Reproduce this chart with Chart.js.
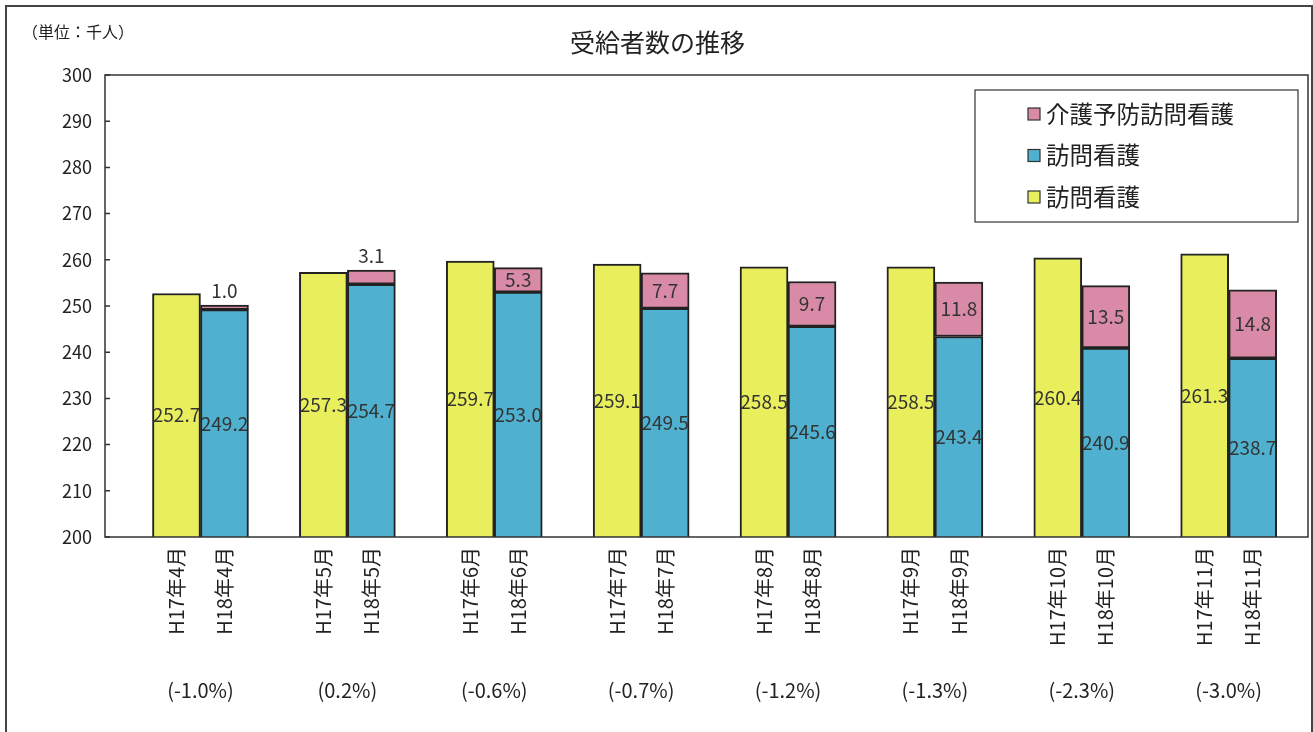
<!DOCTYPE html>
<html lang="ja">
<head>
<meta charset="UTF-8">
<title>受給者数の推移</title>
<script src="https://cdn.jsdelivr.net/npm/chart.js"></script>
<style>
  html, body { margin: 0; padding: 0; background: #fff; overflow: hidden; }
  #frame { position: absolute; left: 5px; top: 5px; width: 1304px; height: 740px; border: 2px solid #444; }
  #chart { display: block; }
</style>
</head>
<body>
<div id="frame"><canvas id="chart" width="1304" height="725"></canvas></div>
<script>
  // data
  const h17Labels = ['H17年4月', 'H17年5月', 'H17年6月', 'H17年7月', 'H17年8月', 'H17年9月', 'H17年10月', 'H17年11月'];
  const h18Labels = ['H18年4月', 'H18年5月', 'H18年6月', 'H18年7月', 'H18年8月', 'H18年9月', 'H18年10月', 'H18年11月'];
  const h17Values = [252.7, 257.3, 259.7, 259.1, 258.5, 258.5, 260.4, 261.3];
  const h18Values = [249.2, 254.7, 253.0, 249.5, 245.6, 243.4, 240.9, 238.7];
  const preventValues = [1.0, 3.1, 5.3, 7.7, 9.7, 11.8, 13.5, 14.8];
  const changeLabels = ['(-1.0%)', '(0.2%)', '(-0.6%)', '(-0.7%)', '(-1.2%)', '(-1.3%)', '(-2.3%)', '(-3.0%)'];
  const seriesNames = ['訪問看護', '訪問看護', '介護予防訪問看護'];
  const chartTitle = '受給者数の推移';
  const unitLabel = '（単位：千人）';

  const JP = '"Noto Sans CJK JP", "Noto Sans", sans-serif';
  const colors = ['#e8ee5c', '#4fb0cf', '#d98aa6'];
  const halfPair = 0.1635;   // offset (in month units) of each bar centre from the month centre

  const xLabels = [];
  const tickPositions = [];
  h17Labels.forEach((lab, i) => {
    xLabels.push(lab, h18Labels[i]);
    tickPositions.push(i - halfPair, i + halfPair);
  });

  const toPoints = arr => arr.map((v, i) => ({ x: i, y: v }));

  const decorations = {
    id: 'decorations',
    afterDatasetsDraw(chart) {
      const { ctx, chartArea: a } = chart;
      ctx.save();
      ctx.font = '19px ' + JP;
      ctx.fillStyle = '#333';
      ctx.textAlign = 'center';
      ctx.textBaseline = 'middle';
      chart.data.datasets.forEach((ds, di) => {
        chart.getDatasetMeta(di).data.forEach((bar, i) => {
          const bottom = Math.min(bar.base, a.bottom);
          const h = bottom - bar.y;
          const y = h < 20 ? bar.y - 14 : (bar.y + bottom) / 2;
          ctx.fillText(ds.data[i].y.toFixed(1), bar.x, y);
        });
      });
      ctx.restore();
    },
    afterDraw(chart) {
      const { ctx, chartArea: a } = chart;
      ctx.save();
      // plot frame + small inward ticks
      ctx.strokeStyle = '#333';
      ctx.lineWidth = 1.5;
      ctx.strokeRect(a.left, a.top, a.width, a.height);
      const ys = chart.scales.y;
      ctx.beginPath();
      ys.ticks.forEach(t => {
        const py = ys.getPixelForValue(t.value);
        ctx.moveTo(a.left, py);
        ctx.lineTo(a.left + 5, py);
      });
      ctx.stroke();

      // unit
      ctx.fillStyle = '#222';
      ctx.font = '16px ' + JP;
      ctx.textAlign = 'left';
      ctx.textBaseline = 'middle';
      ctx.fillText(unitLabel, 15, 25);

      // legend box
      const boxL = a.right - 333, boxT = a.top + 15;
      ctx.fillStyle = '#fff';
      ctx.fillRect(boxL, boxT, 323, 132);
      ctx.lineWidth = 1.2;
      ctx.strokeRect(boxL, boxT, 323, 132);
      ctx.font = '23.5px ' + JP;
      [2, 1, 0].forEach((di, row) => {
        const ds = chart.data.datasets[di];
        const cy = boxT + 24 + row * 41.5;
        ctx.fillStyle = ds.backgroundColor;
        ctx.fillRect(boxL + 53, cy - 6, 12, 12);
        ctx.strokeRect(boxL + 53, cy - 6, 12, 12);
        ctx.fillStyle = '#222';
        ctx.fillText(ds.label, boxL + 71, cy);
      });
      ctx.restore();
    }
  };

  new Chart(document.getElementById('chart'), {
    type: 'bar',
    data: {
      datasets: [
        { label: seriesNames[0], data: toPoints(h17Values), stack: 'h17', backgroundColor: colors[0] },
        { label: seriesNames[1], data: toPoints(h18Values), stack: 'h18', backgroundColor: colors[1] },
        { label: seriesNames[2], data: toPoints(preventValues), stack: 'h18', backgroundColor: colors[2] }
      ]
    },
    options: {
      responsive: false,
      animation: false,
      layout: { padding: { left: 0, right: 3, top: 0, bottom: 0 } },
      datasets: {
        bar: {
          borderColor: '#222',
          borderWidth: 2,
          borderSkipped: false,
          barThickness: 48,
          barPercentage: 1
        }
      },
      plugins: {
        legend: { display: false },
        tooltip: { enabled: false },
        title: {
          display: true,
          text: chartTitle,
          color: '#222',
          font: { family: JP, size: 25, weight: 'normal' },
          padding: { top: 20, bottom: 18 }
        }
      },
      scales: {
        x: {
          type: 'linear',
          stacked: true,
          min: -0.65,
          max: 7.54,
          bounds: 'data',
          offset: false,
          grid: { display: false, drawTicks: false },
          border: { display: false },
          afterBuildTicks: s => { s.ticks = tickPositions.map(v => ({ value: v })); },
          ticks: {
            autoSkip: false,
            minRotation: 90,
            maxRotation: 90,
            padding: 10,
            color: '#222',
            font: { family: JP, size: 20 },
            callback: (v, i) => xLabels[i]
          },
          afterFit: s => { s.height = 118; }
        },
        x2: {
          type: 'linear',
          position: 'bottom',
          weight: 1,
          min: -0.65,
          max: 7.54,
          bounds: 'data',
          offset: false,
          grid: { display: false, drawTicks: false },
          border: { display: false },
          afterBuildTicks: s => { s.ticks = changeLabels.map((_, i) => ({ value: i })); },
          ticks: {
            autoSkip: false,
            maxRotation: 0,
            padding: 23,
            color: '#222',
            font: { family: JP, size: 20 },
            callback: (v, i) => changeLabels[i]
          },
          afterFit: s => { s.height = 77; }
        },
        y: {
          stacked: true,
          min: 200,
          max: 300,
          grid: { display: false, drawTicks: false },
          border: { display: false },
          ticks: {
            stepSize: 10,
            padding: 13,
            color: '#222',
            font: { family: JP, size: 18 }
          },
          afterFit: s => { s.width = 98; }
        }
      }
    },
    plugins: [decorations]
  });
</script>
</body>
</html>
